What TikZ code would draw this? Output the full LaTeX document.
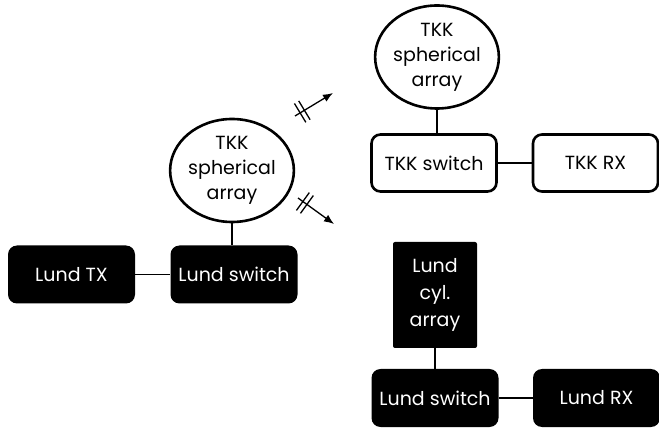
\documentclass[tikz,border=0pt]{standalone}
\usepackage{fontspec}
\setmainfont{Poppins}
\usetikzlibrary{arrows.meta, calc, shapes.geometric}
\tikzset{
  txt/.style = {font=\fontsize{19}{25}\selectfont, align=center, inner sep=0pt},
  darkbox/.style = {txt, fill=black, text=white, rounded corners=9pt, minimum width=127pt, minimum height=58pt},
  lightbox/.style = {txt, draw, line width=2.6pt, fill=white, rounded corners=9pt, minimum width=125pt, minimum height=57pt},
  sphere/.style = {txt, ellipse, draw, line width=2.6pt, minimum width=117pt, minimum height=103pt},
  link/.style = {line width=1.3pt},
  cut/.style = {line width=1.3pt, -{Latex[length=10pt, width=8pt]}}
}

\begin{document}
\begin{tikzpicture}[x=1pt, y=-1pt]
\useasboundingbox (0,0) rectangle (659,430);
% transmitter side
\node[darkbox] (lundtx) at (71.5,274.5) {Lund TX};
\node[darkbox] (lundsw) at (234,274.5) {Lund switch};
\node[sphere] (tkkarr) at (232,170.5) {TKK\\spherical\\array};
% TKK receiver
\node[sphere] (tkkarrrx) at (437,57) {TKK\\spherical\\array};
\node[lightbox] (tkksw) at (434,163) {TKK switch};
\node[lightbox] (tkkrx) at (595.5,163) {TKK RX};
% Lund receiver
\node[darkbox, rounded corners=2pt, minimum width=84pt, minimum height=106pt, font=\fontsize{19}{27}\selectfont] (lundcyl) at (435,295) {Lund\\cyl.\\array};
\node[darkbox] (lundswrx) at (435,398) {Lund switch};
\node[darkbox] (lundrx) at (596.5,398) {Lund RX};

\draw[link] (lundtx) -- (lundsw);
\draw[link] (tkkarr.south) -- (tkkarr.south |- lundsw.north);
\draw[link] (tkkarrrx.south) -- (tkkarrrx.south |- tkksw.north);
\draw[link] (tkksw) -- (tkkrx);
\draw[link] (lundcyl.south) -- (lundcyl.south |- lundswrx.north);
\draw[link] (lundswrx) -- (lundrx);

% broken links
\coordinate (up0) at (295,116);
\coordinate (up1) at (333,93);
\coordinate (dn0) at (298,198);
\coordinate (dn1) at (334,224);
\draw[cut] (up0) -- (up1);
\draw[cut] (dn0) -- (dn1);
\foreach \s/\e in {up0/up1, dn0/dn1}{
  \foreach \d in {6pt, 11pt}{
    \coordinate (m) at ($(\s)!\d!(\e)$);
    \draw[link] ($(m)!11pt!90:(\e)$) -- ($(m)!11pt!-90:(\e)$);
  }
}
\end{tikzpicture}
\end{document}
